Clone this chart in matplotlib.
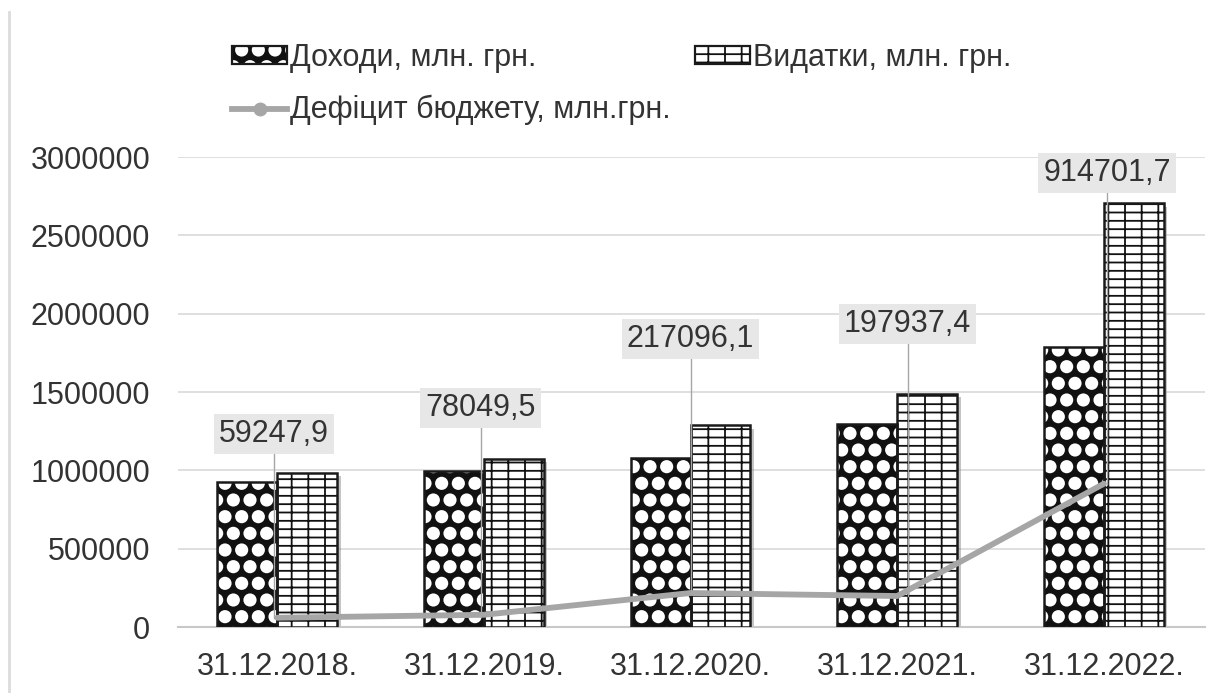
import numpy as np
import matplotlib
matplotlib.use("Agg")
import matplotlib.pyplot as plt
import matplotlib.hatch as mhatch
from matplotlib.patches import Patch
from matplotlib.lines import Line2D
from matplotlib import patheffects as pe

plt.rcParams['font.family'] = ['Liberation Sans', 'DejaVu Sans']
plt.rcParams['hatch.linewidth'] = 1.3

# дані
dates = ['31.12.2018.', '31.12.2019.', '31.12.2020.', '31.12.2021.', '31.12.2022.']
dohody = [928108, 998278, 1075990, 1296854, 1786900]
vydatky = [985851, 1072880, 1288000, 1490355, 2705400]
deficit = [59247.9, 78049.5, 217096.1, 197937.4, 914701.7]
deficit_txt = ['59247,9', '78049,5', '217096,1', '197937,4', '914701,7']

# розміщення підписів (лише макет)
lab_y = [1232000, 1398000, 1838000, 1934000, 2898000]
lab_dx = [-0.015, -0.015, 0.0, 0.05, 0.015]

# білі кружечки для візерунку доходів
mhatch.SmallFilledCircles.size = 0.34

txt = '#333333'
line_c = '#a6a6a6'
x = np.arange(len(dates))
w = 0.29

fig = plt.figure(figsize=(12.31, 6.93), dpi=100)
ax = fig.add_axes([0.1446, 0.0952, 0.8344, 0.6782])

shadow = [pe.SimplePatchShadow(offset=(2.5, -2.5), shadow_rgbFace='#7f7f7f', alpha=0.45)]

# тіні
ax.bar(x - w / 2, dohody, w, color='white', linewidth=0, path_effects=shadow, zorder=2)
ax.bar(x + w / 2, vydatky, w, color='white', linewidth=0, path_effects=shadow, zorder=2)

# візерунки
ax.bar(x - w / 2, dohody, w, facecolor='#111111', edgecolor='white', linewidth=0,
       hatch='.', zorder=3)
ax.bar(x + w / 2, vydatky, w, facecolor='white', edgecolor='#111111', linewidth=0,
       hatch='--|', zorder=3)

# контури
ax.bar(x - w / 2, dohody, w, fill=False, edgecolor='#1a1a1a', linewidth=1.8, zorder=4)
ax.bar(x + w / 2, vydatky, w, fill=False, edgecolor='#1a1a1a', linewidth=1.8, zorder=4)

# дефіцит
ax.plot(x, deficit, color=line_c, lw=4.2, zorder=5, solid_capstyle='round')

for i in range(len(x)):
    lx = x[i] + lab_dx[i]
    ax.plot([lx, lx], [deficit[i], lab_y[i]], color=line_c, lw=1, zorder=5)
    ax.text(lx, lab_y[i], deficit_txt[i], ha='center', va='center', fontsize=22,
            color=txt, zorder=7,
            bbox=dict(boxstyle='square,pad=0.17', facecolor='#e7e7e7', edgecolor='none'))

ax.set_xlim(-0.48, 4.49)
ax.set_ylim(0, 3000000)
ax.set_yticks(np.arange(0, 3000001, 500000))
ax.set_yticklabels([str(v) for v in range(0, 3000001, 500000)])
ax.set_xticks(x)
ax.set_xticklabels(dates)
ax.tick_params(axis='both', length=0, labelsize=22, colors=txt)
ax.tick_params(axis='y', pad=20)
ax.tick_params(axis='x', pad=18)
ax.yaxis.grid(True, color='#d9d9d9', lw=1.2, zorder=0)
ax.set_axisbelow(True)
for s in ['top', 'right', 'left']:
    ax.spines[s].set_visible(False)
ax.spines['bottom'].set_color('#c8c8c8')
ax.spines['bottom'].set_linewidth(1.5)

# легенда
h_doh = (Patch(facecolor='#111111', edgecolor='white', linewidth=0, hatch='.'),
         Patch(fill=False, edgecolor='#1a1a1a', linewidth=1.6))
h_vyd = (Patch(facecolor='white', edgecolor='#111111', linewidth=0, hatch='--|'),
         Patch(fill=False, edgecolor='#1a1a1a', linewidth=1.6))
h_def = Line2D([], [], color=line_c, lw=4.2, marker='o', markersize=9)
leg = fig.legend([h_doh, h_def, h_vyd],
                 ['Доходи, млн. грн.', 'Дефіцит бюджету, млн.грн.', 'Видатки, млн. грн.'],
                 loc='upper left', bbox_to_anchor=(0.1885, 0.938), ncol=2, frameon=False,
                 fontsize=22, handlelength=1.8, handleheight=0.5, handletextpad=0.1,
                 columnspacing=0.8, labelspacing=0.72, borderpad=0, borderaxespad=0)
for t in leg.get_texts():
    t.set_color(txt)

# рамка зліва
fig.add_artist(Line2D([0.007, 0.007], [0.0, 0.982], color='#dcdcdc', lw=2,
                      transform=fig.transFigure))

fig.savefig('out.png', dpi=100, facecolor='white')
